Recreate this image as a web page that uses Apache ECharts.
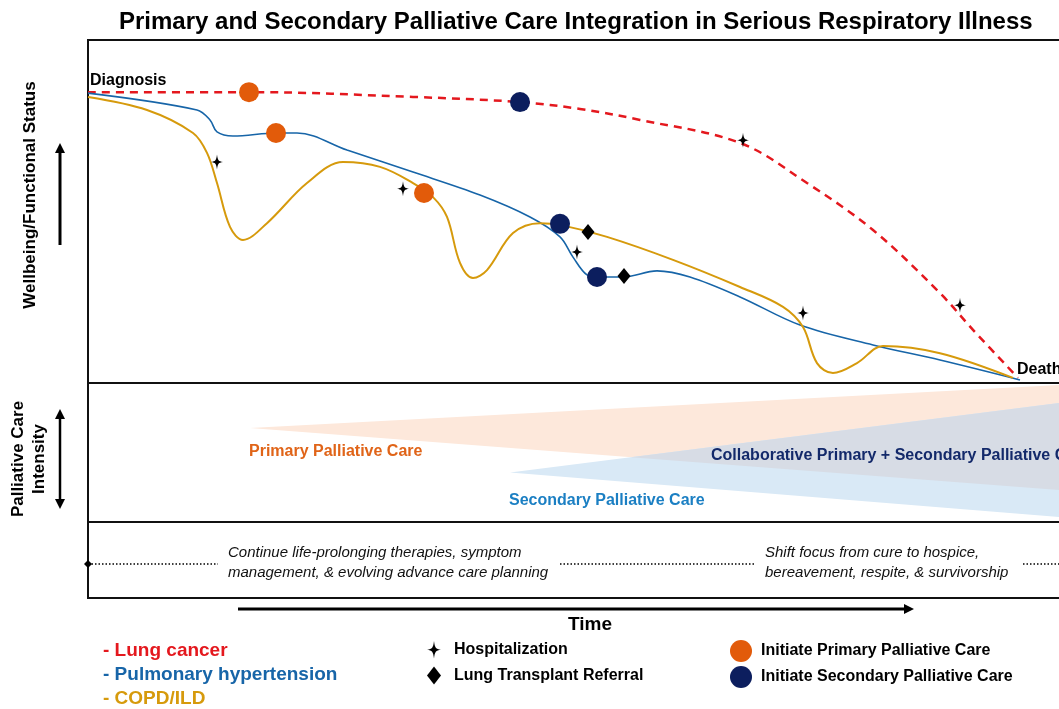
<!DOCTYPE html>
<html>
<head>
<meta charset="utf-8">
<script src="https://cdn.jsdelivr.net/npm/echarts@6/dist/echarts.min.js"></script>
<style>
  html, body { margin: 0; padding: 0; background: #fff; }
  #chart { width: 1059px; height: 709px; }
</style>
</head>
<body>
<div id="chart"></div>
<script>
// trajectories (x = time 0..100, y = wellbeing 0..100)
const lungCancer = [[0, 84.8], [16.2, 84.8], [32.5, 83.4], [43.2, 81.9], [49.2, 79.9], [55.2, 76.7],
  [65.2, 70.0], [71.9, 58.3], [78.5, 44.6], [85.2, 26.2], [88.5, 15.5], [93.0, 1.5]]
const pulmHypertension = [[0, 84.5], [10.9, 79.6], [12.2, 76.7], [12.9, 73.2], [14.5, 72.0], [18.9, 72.9],
  [20.9, 72.9], [25.9, 67.9], [32.5, 61.5], [39.2, 54.8], [44.2, 48.4], [47.2, 42.6], [48.5, 36.7],
  [49.9, 31.5], [51.0, 30.9], [53.5, 30.9], [56.9, 32.7], [60.2, 30.9], [65.2, 25.1], [71.2, 16.9],
  [78.5, 11.1], [85.2, 6.7], [93.2, 0.9]]
const copdIld = [[0, 83.4], [5.9, 79.6], [10.5, 72.9], [11.9, 67.1], [12.9, 58.3], [14.2, 45.5],
  [15.5, 41.7], [17.9, 46.6], [21.9, 58.3], [25.5, 64.4], [29.2, 63.0], [32.5, 58.3], [34.5, 54.2],
  [35.9, 48.4], [37.2, 35.0], [38.5, 30.6], [39.9, 32.9], [42.5, 43.7], [45.2, 46.6], [47.2, 46.1],
  [51.9, 42.6], [58.5, 35.9], [65.2, 28.0], [69.5, 22.2], [71.5, 16.3], [72.9, 5.8], [74.5, 2.9],
  [76.9, 5.8], [79.5, 10.8], [85.2, 8.7], [92.5, 1.5]]

// events
const primaryStarts = [[16.1, 84.8], [18.8, 72.9], [33.6, 55.4]]
const secondaryStarts = [[43.2, 81.9], [47.2, 46.4], [50.9, 30.9]]
const transplantReferrals = [[50.0, 44.0], [53.6, 31.2]]
const hospitalizations = [[12.9, 64.4], [31.5, 56.6], [48.9, 38.2], [65.5, 70.8], [71.5, 20.4], [87.2, 22.7]]

// care intensity wedges: [tip x, tip y, end x, end top y, end bottom y]
const primaryWedge = [16.2, 67.6, 100, 99.6, 21.4]
const secondaryWedge = [42.2, 35.6, 100, 88.3, 1.9]

// dotted focus line segments in the bottom panel
const focusSegments = [[0, 13], [47.2, 66.7], [93.5, 100]]
const focusTexts = [
  'Continue life-prolonging therapies, symptom\nmanagement, & evolving advance care planning',
  'Shift focus from cure to hospice,\nbereavement, respite, & survivorship'
]

const C = {
  red: '#e4181e', blue: '#1765a8', gold: '#d69a0c',
  orange: '#e25b0a', navy: '#0c1e5e',
  peach: '#fde8db', sky: '#d9e9f6', mix: '#d7dce5'
}
const FONT = 'Liberation Sans, Arial, sans-serif'
const starPath = 'path://M0,-10 C1,-2 2,-1 8,0 C2,1 1,2 0,10 C-1,2 -2,1 -8,0 C-2,-1 -1,-2 0,-10 Z'

// overlap of primary bottom edge and secondary top edge
function edge(w, top) {
  const y1 = top ? w[3] : w[4]
  return { x0: w[0], y0: w[1], k: (y1 - w[1]) / (w[2] - w[0]) }
}
const pb = edge(primaryWedge, false)
const st = edge(secondaryWedge, true)
const ix = (st.y0 - st.k * st.x0 - pb.y0 + pb.k * pb.x0) / (pb.k - st.k)
const iy = pb.y0 + pb.k * (ix - pb.x0)
const overlapWedge = [ix, iy, 100, secondaryWedge[3], primaryWedge[4]]

const wedges = [
  [...primaryWedge, 0],
  [...secondaryWedge, 1],
  [...overlapWedge, 2]
]
const wedgeColors = [C.peach, C.sky, C.mix]

const chart = echarts.init(document.getElementById('chart'))

const grids = [
  { left: 88, top: 40, width: 1000, height: 343 },
  { left: 88, top: 383, width: 1000, height: 139 },
  { left: 88, top: 522, width: 1000, height: 76 }
].map(g => ({ ...g, show: true, borderColor: '#111', borderWidth: 2, backgroundColor: 'transparent',
  outerBoundsMode: 'none', containLabel: false }))

const axisBase = { type: 'value', min: 0, max: 100, show: false }

const txt = (text, x, y, size, color, extra) => ({
  type: 'text', x, y, z: 100,
  style: Object.assign({ text, fontSize: size, fontWeight: 'bold', fill: color || '#000',
    fontFamily: FONT, verticalAlign: 'middle' }, extra || {})
})

const legendText = size => ({ fontSize: size, fontWeight: 'bold', color: '#000', fontFamily: FONT })

const option = {
  animation: false,
  title: {
    text: 'Primary and Secondary Palliative Care Integration in Serious Respiratory Illness',
    left: 114, top: 5,
    textStyle: { fontSize: 24, fontWeight: 'bold', color: '#000', fontFamily: FONT }
  },
  grid: grids,
  xAxis: [0, 1, 2].map(i => ({ ...axisBase, gridIndex: i })),
  yAxis: [0, 1, 2].map(i => ({ ...axisBase, gridIndex: i })),
  legend: [
    {
      orient: 'vertical', left: 98, top: 641, padding: 0, icon: 'none', itemWidth: 0, itemHeight: 18, itemGap: 5,
      formatter: '- {name}', selectedMode: false,
      textStyle: Object.assign(legendText(19), { lineHeight: 18 }),
      data: [
        { name: 'Lung cancer', textStyle: { color: C.red } },
        { name: 'Pulmonary hypertension', textStyle: { color: C.blue } },
        { name: 'COPD/ILD', textStyle: { color: C.gold } }
      ]
    },
    {
      orient: 'vertical', left: 427, top: 641, padding: 0, itemWidth: 14, itemHeight: 18, itemGap: 8, selectedMode: false,
      textStyle: Object.assign(legendText(16), { padding: [0, 0, 0, 8] }),
      data: ['Hospitalization', 'Lung Transplant Referral']
    },
    {
      orient: 'vertical', left: 730, top: 640, padding: 0, itemWidth: 22, itemHeight: 22, itemGap: 4, selectedMode: false,
      textStyle: Object.assign(legendText(16), { padding: [0, 0, 0, 4] }),
      data: ['Initiate Primary Palliative Care', 'Initiate Secondary Palliative Care']
    }
  ],
  series: [
    {
      type: 'custom', xAxisIndex: 1, yAxisIndex: 1, silent: true, z: 1,
      data: wedges,
      renderItem: (params, api) => ({
        type: 'polygon',
        shape: { points: [
          api.coord([api.value(0), api.value(1)]),
          api.coord([api.value(2), api.value(3)]),
          api.coord([api.value(2), api.value(4)])
        ] },
        style: { fill: wedgeColors[api.value(5)] }
      })
    },
    {
      name: 'Lung cancer', type: 'line', data: lungCancer, smooth: 0.35,
      showSymbol: false, lineStyle: { color: C.red, width: 2.5, type: [8, 6] }, itemStyle: { color: C.red }, z: 3
    },
    {
      name: 'Pulmonary hypertension', type: 'line', data: pulmHypertension, smooth: 0.35,
      showSymbol: false, lineStyle: { color: C.blue, width: 1.6 }, itemStyle: { color: C.blue }, z: 3
    },
    {
      name: 'COPD/ILD', type: 'line', data: copdIld, smooth: 0.35,
      showSymbol: false, lineStyle: { color: C.gold, width: 2 }, itemStyle: { color: C.gold }, z: 3
    },
    {
      name: 'Hospitalization', type: 'scatter', data: hospitalizations, symbol: starPath, symbolSize: [12, 15],
      itemStyle: { color: '#000', opacity: 1 }, z: 5
    },
    {
      name: 'Lung Transplant Referral', type: 'scatter', data: transplantReferrals, symbol: 'diamond', symbolSize: [13, 16],
      itemStyle: { color: '#000', opacity: 1 }, z: 5
    },
    {
      name: 'Initiate Primary Palliative Care', type: 'scatter', data: primaryStarts, symbolSize: 20,
      itemStyle: { color: C.orange, opacity: 1 }, z: 6
    },
    {
      name: 'Initiate Secondary Palliative Care', type: 'scatter', data: secondaryStarts, symbolSize: 20,
      itemStyle: { color: C.navy, opacity: 1 }, z: 6
    },
    ...focusSegments.map((s, i) => ({
      type: 'line', xAxisIndex: 2, yAxisIndex: 2, silent: true,
      data: [
        { value: [s[0], 44.7], symbol: i === 0 ? 'diamond' : 'none' },
        { value: [s[1], 44.7], symbol: 'none' }
      ],
      symbolSize: 8, showSymbol: true,
      itemStyle: { color: '#000', opacity: 1 },
      lineStyle: { color: '#000', width: 1.6, type: [1.5, 2] }
    }))
  ],
  graphic: [
    txt('Diagnosis', 90, 81, 16),
    txt('Death', 1017, 370, 16),
    txt('Primary Palliative Care', 249, 452, 16, '#e06418'),
    txt('Secondary Palliative Care', 509, 501, 16, '#1b7fc3'),
    txt('Collaborative Primary + Secondary Palliative Care', 711, 456, 16, '#13296a'),
    txt(focusTexts[0], 228, 563, 15, '#111', { fontWeight: 'normal', fontStyle: 'italic', lineHeight: 20 }),
    txt(focusTexts[1], 765, 563, 15, '#111', { fontWeight: 'normal', fontStyle: 'italic', lineHeight: 20 }),
    // time arrow
    { type: 'line', shape: { x1: 238, y1: 609, x2: 906, y2: 609 }, style: { stroke: '#000', lineWidth: 3 } },
    { type: 'polygon', shape: { points: [[904, 604], [914, 609], [904, 614]] }, style: { fill: '#000' } },
    txt('Time', 590, 625, 19, '#000', { align: 'center' }),
    // vertical labels and arrows
    Object.assign(txt('Wellbeing/Functional Status', 30, 195, 17, '#000', { align: 'center' }), { rotation: Math.PI / 2 }),
    Object.assign(txt('Palliative Care\nIntensity', 29, 459, 17, '#000', { align: 'center', lineHeight: 21 }), { rotation: Math.PI / 2 }),
    { type: 'line', shape: { x1: 60, y1: 245, x2: 60, y2: 152 }, style: { stroke: '#000', lineWidth: 3 } },
    { type: 'polygon', shape: { points: [[55, 153], [60, 143], [65, 153]] }, style: { fill: '#000' } },
    { type: 'line', shape: { x1: 60, y1: 418, x2: 60, y2: 500 }, style: { stroke: '#000', lineWidth: 2.5 } },
    { type: 'polygon', shape: { points: [[55, 419], [60, 409], [65, 419]] }, style: { fill: '#000' } },
    { type: 'polygon', shape: { points: [[55, 499], [60, 509], [65, 499]] }, style: { fill: '#000' } }
  ]
}

chart.setOption(option)
</script>
</body>
</html>
